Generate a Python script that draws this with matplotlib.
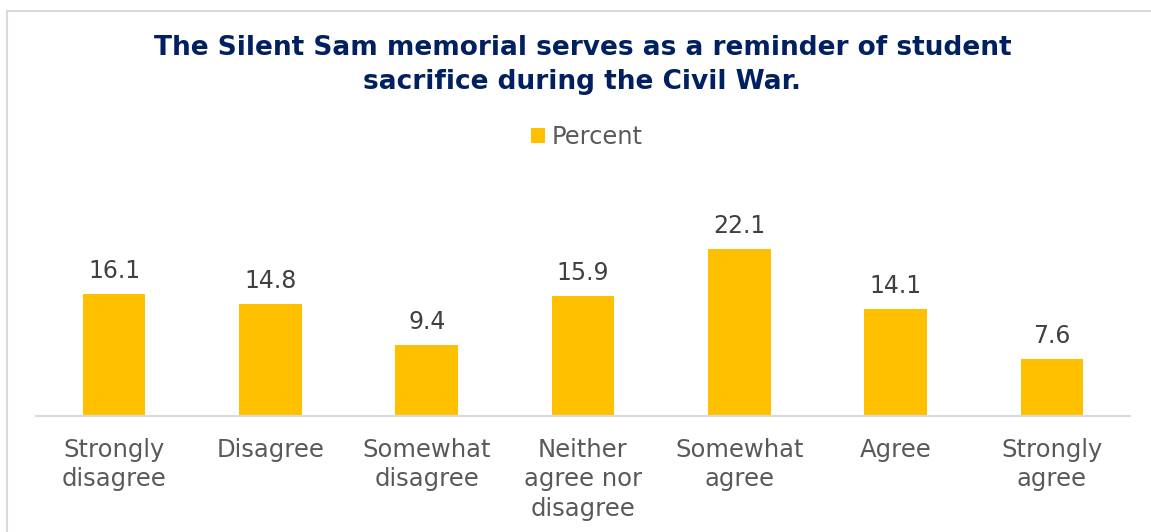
import matplotlib.pyplot as plt
from matplotlib.patches import Rectangle, Patch

plt.rcParams["font.family"] = ["DejaVu Sans"]

categories = ["Strongly\ndisagree", "Disagree", "Somewhat\ndisagree",
              "Neither\nagree nor\ndisagree", "Somewhat\nagree", "Agree",
              "Strongly\nagree"]
percent = [16.1, 14.8, 9.4, 15.9, 22.1, 14.1, 7.6]

W, H = 1151, 532
fig = plt.figure(figsize=(W / 100, H / 100), dpi=100)
fig.patch.set_facecolor("white")

# light frame around the chart area
fig.patches.append(Rectangle((7 / W, -0.1), 1.2, 1.1 - 11 / H,
                             transform=fig.transFigure, fill=False,
                             edgecolor="#D9D9D9", linewidth=1.5))

ax_left, ax_right = 36 / W, 1130 / W
ax_bottom = (H - 416) / H
ax_top = (H - 227) / H
ax = fig.add_axes([ax_left, ax_bottom, ax_right - ax_left, ax_top - ax_bottom])

x = range(len(categories))
ax.bar(x, percent, width=0.40, color="#FFC000")
ax.set_xlim(-0.5, len(categories) - 0.5)
ax.set_ylim(0, 25)

for xi, v in zip(x, percent):
    ax.annotate(f"{v}", (xi, v), xytext=(0, 11.5), textcoords="offset points",
                ha="center", va="baseline", fontsize=17, color="#404040")

ax.set_xticks(list(x))
ax.set_xticklabels(categories, fontsize=17.5, color="#595959", linespacing=1.3)
ax.tick_params(axis="x", length=0, pad=15.5)
ax.set_yticks([])
for side in ["left", "right", "top"]:
    ax.spines[side].set_visible(False)
ax.spines["bottom"].set_color("#D9D9D9")
ax.spines["bottom"].set_linewidth(1.5)

fig.text(0.506, (H - 48) / H, "The Silent Sam memorial serves as a reminder of student",
         ha="center", va="center", fontsize=19, fontweight="bold", color="#002060")
fig.text(0.506, (H - 82) / H, "sacrifice during the Civil War.",
         ha="center", va="center", fontsize=19, fontweight="bold", color="#002060")

fig.legend(handles=[Patch(facecolor="#FFC000", label="Percent")],
           loc="center", bbox_to_anchor=(587 / W, (H - 137) / H),
           frameon=False, fontsize=17.4, labelcolor="#595959",
           handlelength=0.55, handleheight=0.55, handletextpad=0.3)

fig.savefig("out.png", dpi=100)
